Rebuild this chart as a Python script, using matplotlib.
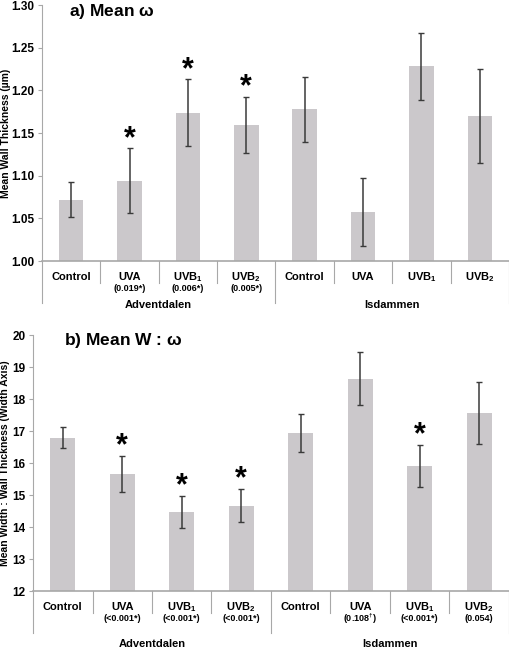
import matplotlib
matplotlib.use('Agg')
import matplotlib.pyplot as plt
import matplotlib.transforms as mtransforms
import numpy as np
from matplotlib import rc

rc('mathtext', default='regular')
plt.rcParams['font.family'] = ['Liberation Sans', 'DejaVu Sans']
plt.rcParams['font.weight'] = 'bold'

cats = ['Control', 'UVA', r'UVB$_1$', r'UVB$_2$', 'Control', 'UVA', r'UVB$_1$', r'UVB$_2$']
groups = ['Adventdalen', 'Isdammen']

# a) mean wall thickness
thick = [1.072, 1.094, 1.174, 1.159, 1.178, 1.057, 1.228, 1.170]
thick_err = [0.020, 0.038, 0.039, 0.033, 0.038, 0.040, 0.039, 0.055]
thick_p = ['', '(0.019*)', '(0.006*)', '(0.005*)', '', '', '', '']
thick_star = [0, 1, 1, 1, 0, 0, 0, 0]

# b) mean width : wall thickness
ratio = [16.80, 15.66, 14.49, 14.67, 16.94, 18.64, 15.92, 17.56]
ratio_err = [0.33, 0.57, 0.50, 0.52, 0.59, 0.82, 0.66, 0.97]
ratio_p = ['', '(<0.001*)', '(<0.001*)', '(<0.001*)', '', r'(0.108$^{\dagger}$)', '(<0.001*)', '(0.054)']
ratio_star = [0, 1, 1, 1, 0, 0, 1, 0]

bar_c = '#cbc8cb'
axis_c = '#a8a8a8'
err_c = '#3a3a3a'

fig = plt.figure(figsize=(5.1, 6.48), dpi=100)


def panel(rect, vals, errs, pvals, stars, ylim, yticks, fmt, ylabel, ylab_x, title, title_xy, grp_y):
    ax = fig.add_axes(rect)
    x = np.arange(len(vals))
    ax.bar(x, np.array(vals) - ylim[0], 0.42, bottom=ylim[0], color=bar_c, zorder=2)
    ax.errorbar(x, vals, yerr=errs, fmt='none', ecolor=err_c, elinewidth=1.1,
                capsize=2, capthick=1, zorder=3)
    for xi, v, e, s in zip(x, vals, errs, stars):
        if s:
            ax.annotate('*', (xi, v + e), xytext=(0, -4), textcoords='offset points',
                        ha='center', va='bottom', fontsize=22, fontweight='bold')
    ax.set_xlim(-0.5, len(vals) - 0.5)
    ax.set_ylim(*ylim)
    ax.set_yticks(yticks)
    ax.set_yticklabels([fmt % t for t in yticks], fontsize=8.5, fontweight='bold')
    ax.tick_params(axis='y', direction='out', length=3, width=0.8, color=axis_c, pad=2.5)
    ax.set_xticks([])
    for sp in ['top', 'right']:
        ax.spines[sp].set_visible(False)
    ax.spines['left'].set_color(axis_c)
    ax.spines['bottom'].set_color(axis_c)
    ax.spines['left'].set_linewidth(0.8)
    ax.spines['bottom'].set_linewidth(1.2)
    ax.set_ylabel(ylabel, fontsize=7.5, fontweight='bold')
    ax.yaxis.set_label_coords(ylab_x, 0.5)
    ax.text(title_xy[0], title_xy[1], title, transform=ax.transAxes, fontsize=12.5,
            fontweight='bold', ha='center', va='center')

    tr = mtransforms.blended_transform_factory(ax.transData, ax.transAxes)
    n = len(vals)
    for i in range(n + 1):
        xs = i - 0.5
        long = i % 4 == 0
        ax.plot([xs, xs], [0, -0.164 if long else -0.086], transform=tr, color=axis_c,
                lw=0.8, clip_on=False)
    for i, (c, p) in enumerate(zip(cats, pvals)):
        ax.text(i, -0.062, c, transform=tr, ha='center', va='center', fontsize=8,
                fontweight='bold')
        if p:
            ax.text(i, -0.107, p, transform=tr, ha='center', va='center', fontsize=6.5,
                    fontweight='bold')
    for g, gname in enumerate(groups):
        ax.text(g * 4 + 1.5, grp_y, gname, transform=tr, ha='center', va='center',
                fontsize=8, fontweight='bold')
    return ax


panel([42 / 510, 1 - 261 / 648, 467 / 510, 256 / 648], thick, thick_err, thick_p, thick_star,
      (1.0, 1.3), np.arange(1.0, 1.301, 0.05), '%.2f', 'Mean Wall Thickness (\u00b5m)', -0.066,
      r'a) Mean $\omega$', (0.15, 0.973), -0.172)

panel([33 / 510, 1 - 591.3 / 648, 476 / 510, 256.3 / 648], ratio, ratio_err, ratio_p, ratio_star,
      (12, 20), np.arange(12, 21, 1), '%d', 'Mean Width : Wall Thickness (Width Axis)', -0.049,
      r'b) Mean W : $\omega$', (0.19, 0.98), -0.205)

fig.savefig('out.png', dpi=100)
